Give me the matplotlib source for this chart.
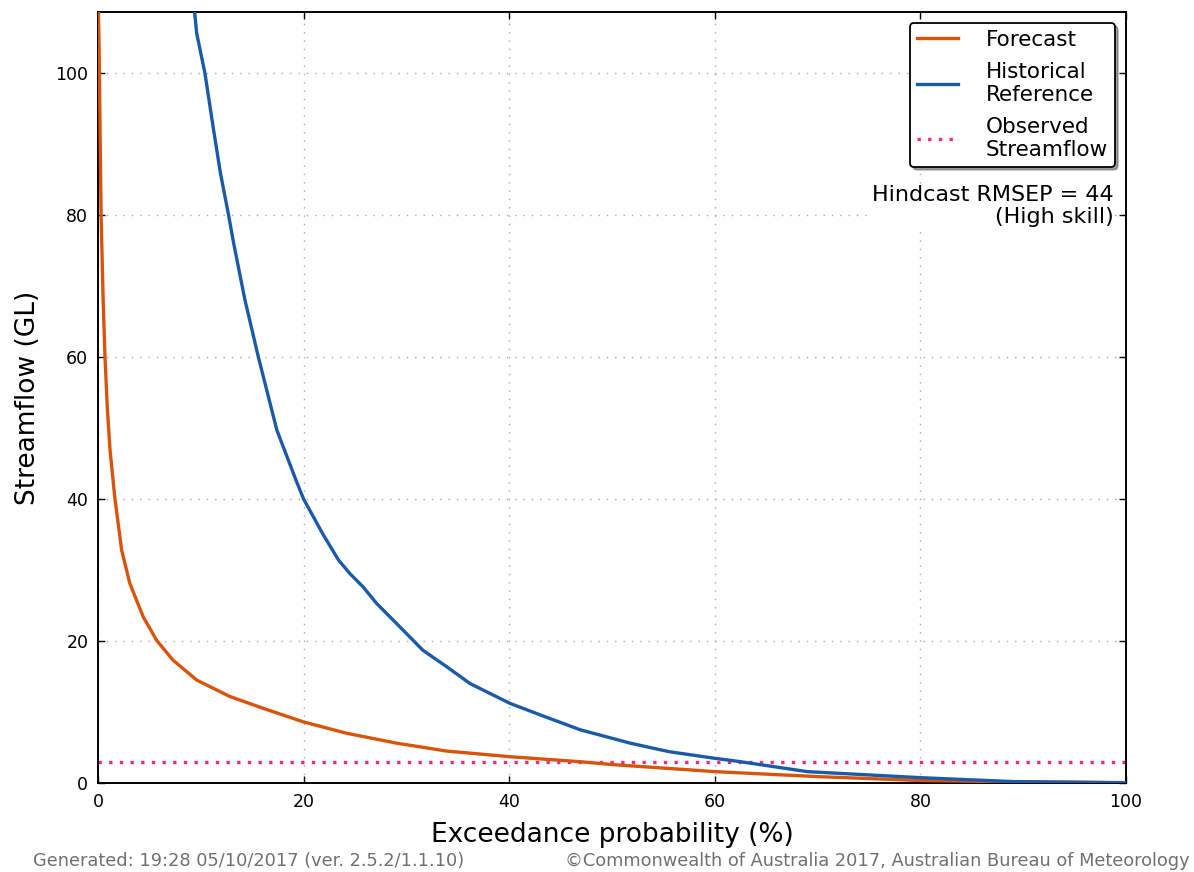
import matplotlib
matplotlib.use("Agg")
import matplotlib.pyplot as plt

# Forecast exceedance curve
fc_prob = [0.0, 0.1, 0.2, 0.3, 0.5, 0.68, 0.9, 1.17, 1.65, 2.3, 3.1, 4.4, 5.7, 7.3,
           9.6, 12.8, 16.1, 20.0, 24.2, 29.1, 33.9, 40.1, 46.9, 50.0,
           55.0, 60.0, 70.0, 80.0, 90.0, 100.0]
fc_flow = [112, 104, 92, 80, 68, 60, 53, 46.9, 40, 32.8, 28.1, 23.4, 20.1, 17.3,
           14.5, 12.2, 10.5, 8.6, 7.0, 5.6, 4.5, 3.7, 3.0, 2.6,
           2.1, 1.6, 0.9, 0.35, 0.15, 0.05]

# Historical reference curve
hr_prob = [9.3, 9.6, 10.4, 11.2, 11.9, 12.7, 13.2, 14.3, 15.6, 17.4, 19.3, 20.0,
           21.9, 23.4, 24.5, 25.8, 27.1, 29.7, 31.6, 33.9, 36.2, 40.1, 43.0,
           46.9, 51.8, 55.6, 59.9, 62.5, 69.0, 80.0, 89.0, 98.0, 100.0]
hr_flow = [110, 105.6, 100, 92.4, 86.0, 80.0, 76.0, 68.0, 60.0, 49.7, 42.5, 40.0,
           35.0, 31.4, 29.5, 27.6, 25.3, 21.5, 18.7, 16.4, 14.0, 11.2, 9.6,
           7.5, 5.6, 4.4, 3.5, 3.0, 1.6, 0.75, 0.2, 0.06, 0.03]

observed = 3.0

x_ticks = [0, 20, 40, 60, 80, 100]
y_ticks = [0, 20, 40, 60, 80, 100]

fig = plt.figure(figsize=(11.94, 8.72), dpi=100)
ax = fig.add_axes([98/1194, 1 - 783/872, 1028/1194, 771/872])

ax.plot(fc_prob, fc_flow, color="#d9540b", lw=2.4, label="Forecast", zorder=3)
ax.plot(hr_prob, hr_flow, color="#1a5aa8", lw=2.4, label="Historical\nReference", zorder=3)
ax.axhline(observed, color="#f0288c", lw=2.4, ls=(0, (1, 2.2)), label="Observed\nStreamflow", zorder=2)

ax.set_xlim(0, 100)
ax.set_ylim(0, 108.6)
ax.set_xticks(x_ticks)
ax.set_yticks(y_ticks)
ax.tick_params(direction="in", top=True, right=True, length=5, width=1, labelsize=12.5, pad=7)
for s in ax.spines.values():
    s.set_linewidth(1.4)
ax.grid(True, color="#a8a8a8", ls=(0, (1, 5)), lw=1.0)
ax.set_axisbelow(True)

ax.set_xlabel("Exceedance probability (%)", fontsize=19, labelpad=8)
ax.set_ylabel("Streamflow (GL)", fontsize=19, labelpad=10)

leg = ax.legend(loc="upper right", bbox_to_anchor=(0.9893, 0.9857), borderaxespad=0,
                fontsize=15.5, fancybox=True, shadow=True, framealpha=1, edgecolor="black",
                handlelength=1.9, handletextpad=1.3, borderpad=0.32, labelspacing=0.55)
leg.get_frame().set_linewidth(1.3)

ax.text(0.988, 0.775, "Hindcast RMSEP = 44\n(High skill)", transform=ax.transAxes,
        ha="right", va="top", fontsize=16, linespacing=1.1,
        bbox=dict(facecolor="white", edgecolor="none", pad=0.5))

fig.text(33/1194, 1 - 861/872, "Generated: 19:28 05/10/2017 (ver. 2.5.2/1.1.10)",
         fontsize=12.8, color="#707070", ha="left", va="center")
fig.text(1190/1194, 1 - 861/872, "\u00a9Commonwealth of Australia 2017, Australian Bureau of Meteorology",
         fontsize=12.8, color="#707070", ha="right", va="center")

fig.savefig("out.png", dpi=100)
